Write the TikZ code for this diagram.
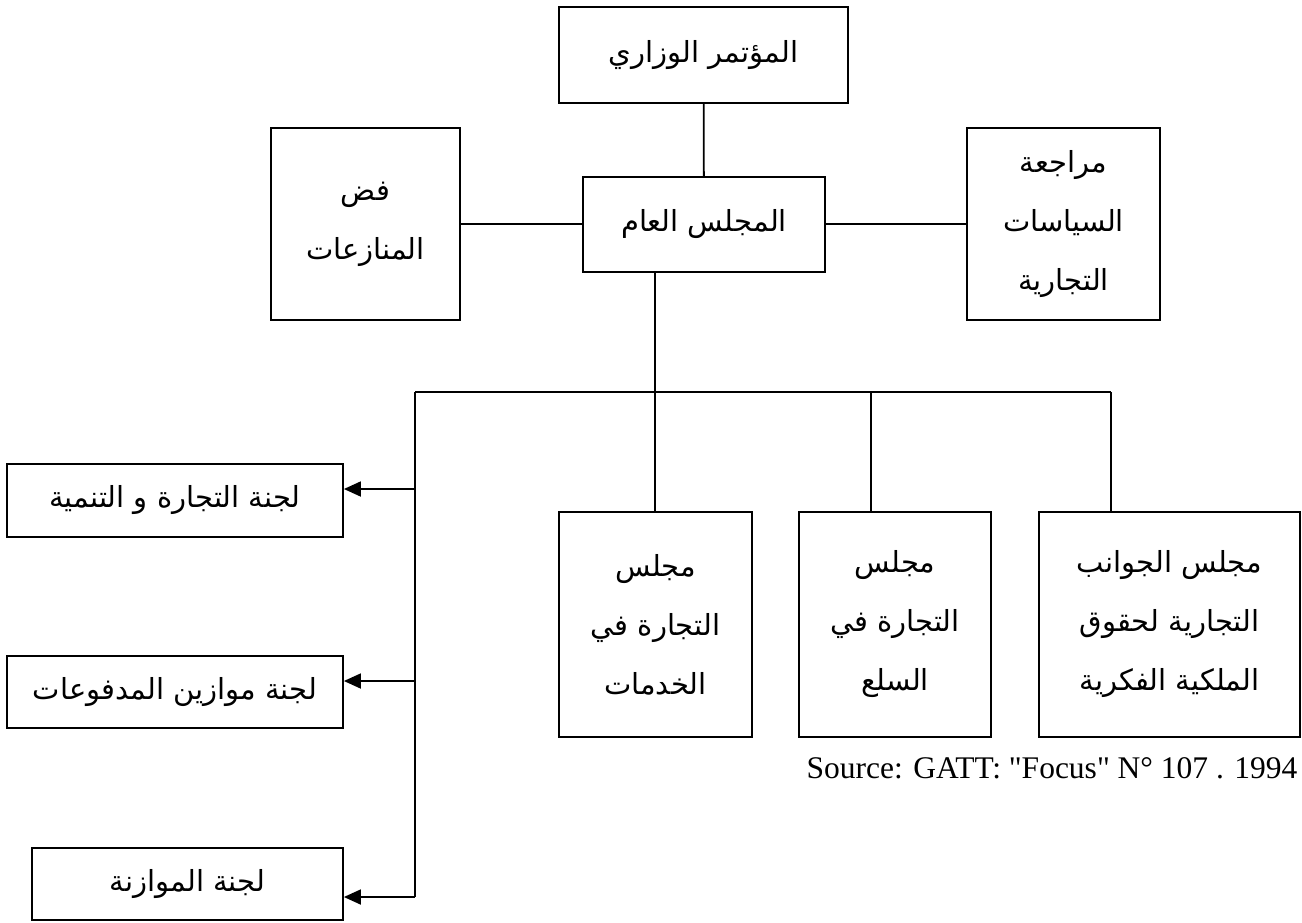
\documentclass[tikz,border=0pt]{standalone}
\usepackage{fontspec}
\usetikzlibrary{arrows.meta}
\newfontfamily\arabicfont[Script=Arabic]{DejaVu Sans}
\newfontfamily\srcfont{Liberation Serif}
\TeXXeTstate=1
\newcommand{\artxt}[1]{\beginR #1\endR}

\begin{document}
\begin{tikzpicture}[x=1pt,y=-1pt,
  box/.style={draw,line width=1.8pt,inner sep=0pt,align=center,font={\arabicfont\fontsize{29}{59}\selectfont}},
  link/.style={line width=1.8pt},
  arr/.style={link,-{Triangle[length=17pt,width=15pt]}}]
  \useasboundingbox (0,0) rectangle (1302,922);

  %top level
  \node[box,minimum width=289pt,minimum height=96pt] (conf) at (703.5,55) {\artxt{المؤتمر الوزاري}};
  \node[box,minimum width=242pt,minimum height=95pt] (council) at (704,224.5) {\artxt{المجلس العام}};
  \node[box,minimum width=189pt,minimum height=192pt] (disp) at (365.5,224) {\artxt{فض}\\\artxt{المنازعات}};
  \node[box,minimum width=193pt,minimum height=192pt] (review) at (1063.5,224) {\artxt{مراجعة}\\\artxt{السياسات}\\\artxt{التجارية}};

  %councils
  \node[box,minimum width=193pt,minimum height=225pt] (services) at (655.5,624.5) {\artxt{مجلس}\\\artxt{التجارة في}\\\artxt{الخدمات}};
  \node[box,minimum width=192pt,minimum height=225pt] (goods) at (895,624.5) {\artxt{مجلس}\\\artxt{التجارة في}\\\artxt{السلع}};
  \node[box,minimum width=261pt,minimum height=225pt] (trips) at (1169.5,624.5) {\artxt{مجلس الجوانب}\\\artxt{التجارية لحقوق}\\\artxt{الملكية الفكرية}};

  %committees
  \node[box,minimum width=336pt,minimum height=73pt] (tradedev) at (175,500.5) {\artxt{لجنة التجارة و التنمية}};
  \node[box,minimum width=336pt,minimum height=72pt] (bop) at (175,692) {\artxt{لجنة موازين المدفوعات}};
  \node[box,minimum width=311pt,minimum height=72pt] (budget) at (187.5,884) {\artxt{لجنة الموازنة}};

  \node[anchor=base east,font={\srcfont\fontsize{31.5}{38}\selectfont}] (src) at (1301,778) {Source: GATT: "Focus" N° 107 . 1994};

  %links
  \coordinate (bl) at (415,392);
  \coordinate (bc) at (655,392);
  \coordinate (bm) at (871,392);
  \coordinate (br) at (1111,392);
  \coordinate (a1) at (415,489);
  \coordinate (a2) at (415,681);
  \coordinate (a3) at (415,897);
  \draw[link] (conf) -- (council);
  \draw[link] (disp.east) -- (disp.east -| council.west);
  \draw[link] (review.west) -- (review.west -| council.east);
  \draw[link] (council.south -| bc) -- (bc);
  \draw[link] (bl) -- (br);
  \draw[link] (bc) -- (bc |- services.north);
  \draw[link] (bm) -- (bm |- goods.north);
  \draw[link] (br) -- (br |- trips.north);
  \draw[link] (bl) -- (a3);
  \draw[arr] (a1) -- (a1 -| tradedev.east);
  \draw[arr] (a2) -- (a2 -| bop.east);
  \draw[arr] (a3) -- (a3 -| budget.east);
\end{tikzpicture}
\end{document}
